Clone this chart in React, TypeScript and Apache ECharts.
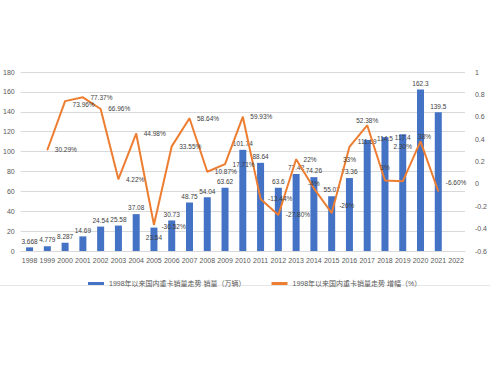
import React, { useEffect, useRef } from "react";
import * as echarts from "echarts";

const years = ["1998","1999","2000","2001","2002","2003","2004","2005","2006","2007","2008","2009","2010","2011","2012","2013","2014","2015","2016","2017","2018","2019","2020","2021","2022"];
const sales = [3.668, 4.779, 8.287, 14.69, 24.54, 25.58, 37.08, 23.54, 30.73, 48.75, 54.04, 63.62, 101.74, 88.64, 63.6, 77.42, 74.26, 55.07, 73.36, 111.69, 114.5, 117.4, 162.3, 139.5, null];
const growth = [null, 0.3029, 0.7396, 0.7737, 0.6696, 0.0422, 0.4498, -0.3652, 0.3355, 0.5864, 0.1087, 0.1771, 0.5993, -0.1344, -0.278, 0.22, -0.04, -0.26, 0.33, 0.5238, 0.03, 0.023, 0.38, -0.066, null];
const growthLabels = ["", "30.29%", "73.96%", "77.37%", "66.96%", "4.22%", "44.98%", "-36.52%", "33.55%", "58.64%", "10.87%", "17.71%", "59.93%", "-13.44%", "-27.80%", "22%", "-4%", "-26%", "33%", "52.38%", "3%", "2.30%", "38%", "-6.60%", ""];
const salesName = "1998年以来国内重卡销量走势 销量（万辆）";
const growthName = "1998年以来国内重卡销量走势 增幅（%）";

const FONT = "'Liberation Sans', Arial, 'Noto Sans CJK SC', sans-serif";

// label placement tweaks (layout only)
const barLabelTweaks: Record<string, any> = {
  "2005": { offset: [0, 16] },
  "2017": { offset: [0, 8] },
  "2018": { offset: [0, 8] },
  "2019": { offset: [0, 9] },
};
const lineLabelTweaks: Record<string, any> = {
  "2000": { offset: [0, 3] },
  "2005": { offset: [0, 2] },
  "2014": { position: "top", distance: 1 },
  "2015": { offset: [0, -7] },
  "2016": { position: "bottom", distance: 9 },
  "2017": { position: "top", distance: 1 },
  "2018": { position: "top", distance: 9 },
  "2019": { position: "top", distance: 31 },
  "2020": { position: "top", distance: 1, offset: [4, 0] },
  "2021": { offset: [0, -9] },
};

export default function App() {
  const ref = useRef<HTMLDivElement>(null);
  useEffect(() => {
    const chart = echarts.init(ref.current!, null, { renderer: "svg" });
    chart.setOption({
      animation: false,
      textStyle: { fontFamily: FONT },
      grid: { left: 19, right: 22.5, top: 72, bottom: 116 },
      legend: {
        left: 83,
        top: 275,
        itemWidth: 16,
        itemHeight: 3,
        itemGap: 26,
        textStyle: { fontSize: 7, color: "#595959", fontFamily: FONT },
        data: [
          { name: salesName, icon: "rect" },
          { name: growthName, icon: "rect" },
        ],
      },
      xAxis: {
        type: "category",
        data: years,
        axisLine: { lineStyle: { color: "#d9d9d9" } },
        axisTick: { show: false },
        axisLabel: { fontSize: 7, color: "#595959", margin: 6, interval: 0 },
      },
      yAxis: [
        {
          type: "value",
          min: 0,
          max: 180,
          interval: 20,
          axisLabel: { fontSize: 7, color: "#595959", margin: 6 },
          splitLine: { lineStyle: { color: "#d9d9d9" } },
          axisLine: { show: false },
          axisTick: { show: false },
        },
        {
          type: "value",
          min: -0.6,
          max: 1,
          interval: 0.2,
          axisLabel: { fontSize: 7, color: "#595959", margin: 10 },
          splitLine: { show: false },
          axisLine: { show: false },
          axisTick: { show: false },
        },
      ],
      series: [
        {
          name: salesName,
          type: "bar",
          data: sales.map((v, i) => (barLabelTweaks[years[i]] ? { value: v, label: barLabelTweaks[years[i]] } : v)),
          barWidth: 7,
          itemStyle: { color: "#4472C4" },
          label: { show: true, position: "top", distance: 3, fontSize: 6.5, color: "#404040" },
        },
        {
          name: growthName,
          type: "line",
          yAxisIndex: 1,
          data: growth.map((v, i) => (lineLabelTweaks[years[i]] ? { value: v, label: lineLabelTweaks[years[i]] } : v)),
          showSymbol: true,
          symbol: "circle",
          symbolSize: 1,
          lineStyle: { color: "#ED7D31", width: 2 },
          itemStyle: { color: "#ED7D31" },
          label: {
            show: true,
            position: "right",
            distance: 7,
            fontSize: 6.5,
            color: "#404040",
            formatter: (p: any) => growthLabels[p.dataIndex],
          },
        },
      ],
      graphic: [
        {
          type: "line",
          shape: { x1: 0, y1: 285.5, x2: 490, y2: 285.5 },
          style: { stroke: "#e6e6e6", lineWidth: 1 },
        },
      ],
    });
    return () => chart.dispose();
  }, []);
  return <div ref={ref} style={{ position: "absolute", left: 0, top: 0, width: 490, height: 367 }} />;
}
